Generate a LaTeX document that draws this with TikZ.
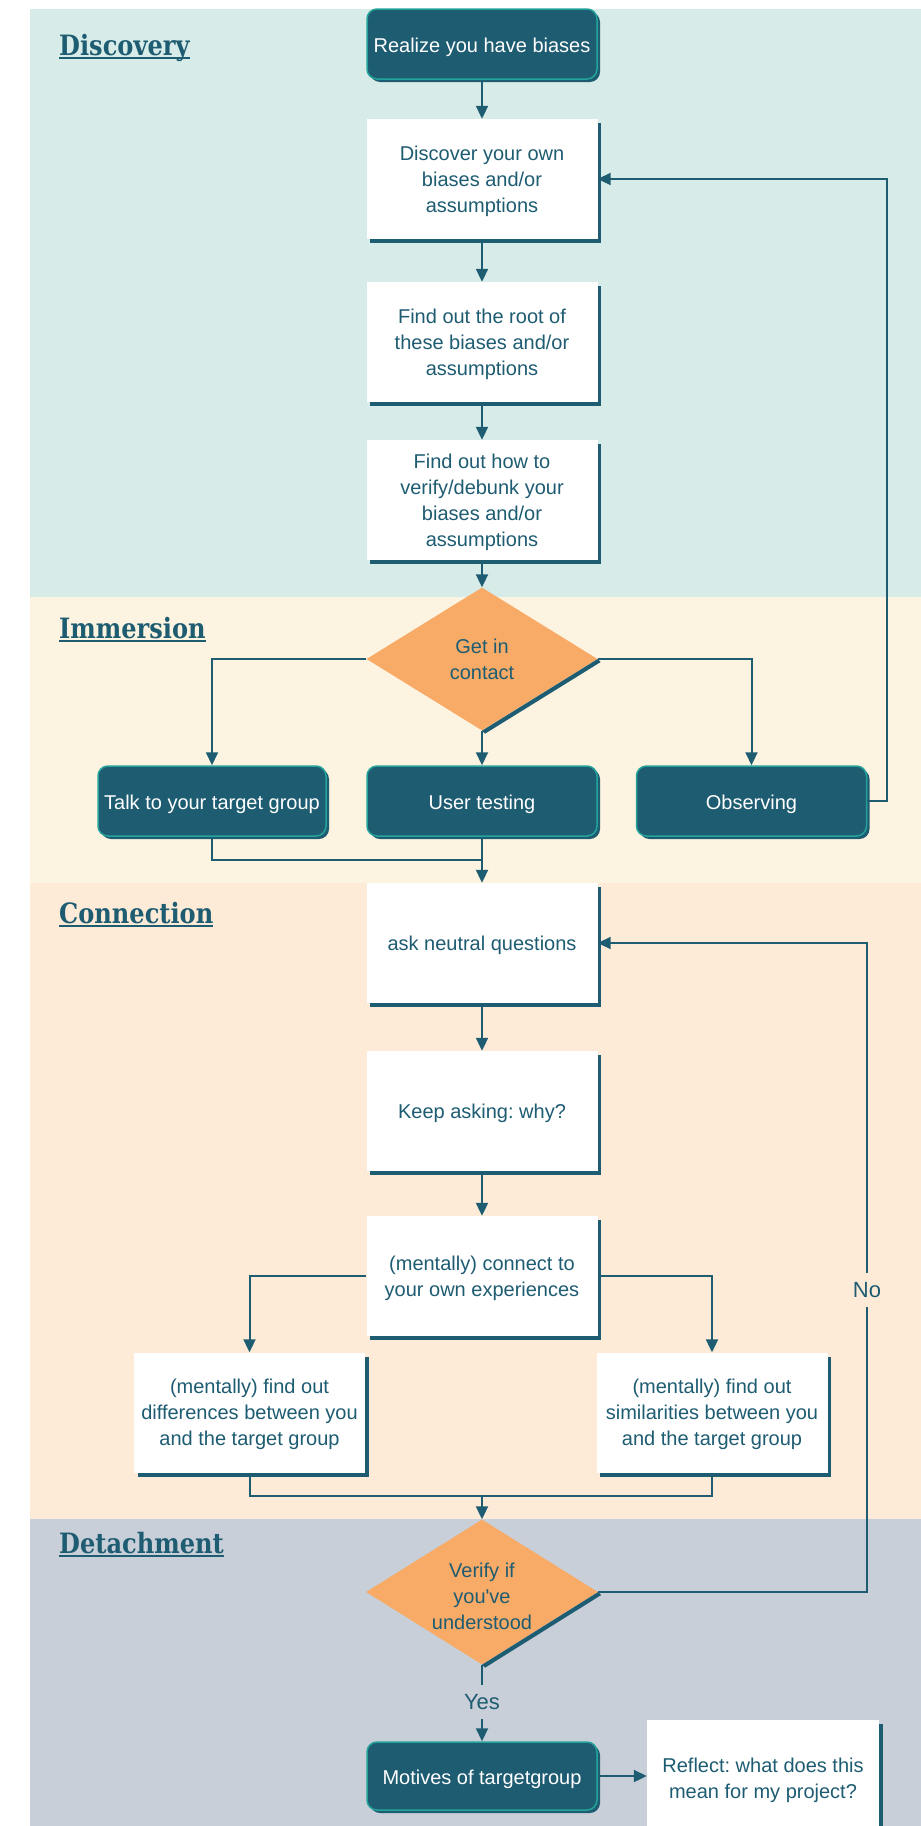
\documentclass[tikz,border=0pt]{standalone}
\usepackage{fontspec}
\setmainfont{Liberation Sans}
\newfontfamily\titlefont{DejaVu Serif}[FakeStretch=0.86]
\usetikzlibrary{shapes.geometric,arrows.meta,shadows}

\definecolor{ink}{HTML}{1E5C72}
\definecolor{rim}{HTML}{23A39A}
\definecolor{orangefill}{HTML}{F8AB67}
\definecolor{bgdisc}{HTML}{D7ECE8}
\definecolor{bgimm}{HTML}{FCF3E0}
\definecolor{bgconn}{HTML}{FDEBD8}
\definecolor{bgdet}{HTML}{C8CFD9}

\begin{document}
\frenchspacing
\begin{tikzpicture}[x=1pt,y=-1pt,
  every node/.style={inner sep=0pt},
  body/.style={font=\fontsize{20}{26}\selectfont, align=center},
  darkbox/.style={body, rectangle, rounded corners=10pt, fill=ink, draw=rim,
    line width=1.5pt, text=white, minimum width=230pt, minimum height=70pt,
    text height=21.5pt,
    drop shadow={shadow xshift=3pt, shadow yshift=-3pt, opacity=1, fill=ink}},
  whitebox/.style={body, rectangle, fill=white, text=ink,
    minimum width=231pt, minimum height=120pt, text depth=0pt,
    drop shadow={shadow xshift=3.5pt, shadow yshift=-4pt, opacity=1, fill=ink}},
  decision/.style={body, diamond, aspect=1.6, fill=orangefill, text=ink,
    minimum width=231pt, minimum height=143pt},
  lbl/.style={font=\fontsize{22}{24}\selectfont, text=ink, inner xsep=3pt, inner ysep=9pt},
  title/.style={font=\titlefont\bfseries\fontsize{28}{30}\selectfont, text=ink, anchor=base west},
  arr/.style={draw=ink, line width=2pt, -{Triangle[length=13pt,width=12pt]}},
  link/.style={draw=ink, line width=2pt},
]
\useasboundingbox (0,0) rectangle (921,1826);
\clip (0,0) rectangle (921,1826);

% phase bands
\fill[bgdisc] (30,9) rectangle (921,597);
\fill[bgimm]  (30,597) rectangle (921,883);
\fill[bgconn] (30,883) rectangle (921,1519);
\fill[bgdet]  (30,1519) rectangle (921,1826);

% phase titles with underline
\node[title] (tdisc) at (59,55) {Discovery};
\node[title] (timm)  at (59,638) {Immersion};
\node[title] (tconn) at (59,923) {Connection};
\node[title] (tdet)  at (59,1553) {Detachment};
\foreach \t in {tdisc,timm,tconn,tdet}
  \draw[ink, line width=2pt] ([yshift=-3pt]\t.base west) -- ([yshift=-3pt]\t.base east);

% Discovery
\node[darkbox] (realize) at (482,44) {Realize you have biases};
\node[whitebox] (discover) at (482,179) {Discover your own\\biases and/or\\assumptions};
\node[whitebox] (root) at (482,342) {Find out the root of\\these biases and/or\\assumptions};
\node[whitebox] (how) at (482,500) {Find out how to\\verify/debunk your\\biases and/or\\assumptions};

% Immersion
\node[decision] (contact) at (482,659) {Get in\\contact};
\fill[ink] (contact.east) -- (contact.south) -- ([xshift=3pt,yshift=-3pt]contact.south)
  -- ([xshift=3pt,yshift=-3pt]contact.east) -- cycle;
\node[darkbox, minimum width=228pt] (talk) at (212,801) {Talk to your target group};
\node[darkbox] (user) at (482,801) {User testing};
\node[darkbox] (observe) at (751.5,801) {Observing};

% Connection
\node[whitebox] (ask) at (482,943) {ask neutral questions};
\node[whitebox] (keep) at (482,1111) {Keep asking: why?};
\node[whitebox] (connect) at (482,1276) {(mentally) connect to\\your own experiences};
\node[whitebox] (diff) at (249.5,1412.5) {(mentally) find out\\differences between you\\and the target group};
\node[whitebox] (sim) at (712,1412.5) {(mentally) find out\\similarities between you\\and the target group};

% Detachment
\node[decision, minimum width=232pt, minimum height=145pt, text height=75.5pt, text depth=0pt] (check) at (482,1592)
  {Verify if\\you\textquotesingle ve\\understood};
\fill[ink] (check.east) -- (check.south) -- ([xshift=3pt,yshift=-3pt]check.south)
  -- ([xshift=3pt,yshift=-3pt]check.east) -- cycle;
\node[darkbox, minimum height=68pt] (motives) at (482,1776) {Motives of targetgroup};
\node[whitebox, minimum width=232pt, minimum height=116pt] (reflect) at (763,1778)
  {Reflect: what does this\\mean for my project?};

% routing points
\coordinate (loopA) at (887,179);
\coordinate (joinA) at (482,860);
\coordinate (joinB) at (482,1496);
\coordinate (loopB) at (867,943);

% connectors
\draw[arr] (realize) -- (discover);
\draw[arr] (discover) -- (root);
\draw[arr] (root) -- (how);
\draw[arr] (how) -- (contact);
\draw[arr] (contact.west) -| (talk.north);
\draw[arr] (contact) -- (user);
\draw[arr] (contact.east) -| (observe.north);
\draw[arr] (observe.east) -| (loopA) -- (discover.east);
\draw[link] (talk.south) |- (joinA);
\draw[arr] (user) -- (ask);
\draw[arr] (ask) -- (keep);
\draw[arr] (keep) -- (connect);
\draw[arr] (connect.west) -| (diff.north);
\draw[arr] (connect.east) -| (sim.north);
\draw[link] (diff.south) |- (joinB) -| (sim.south);
\draw[arr] (joinB) -- (check);
\draw[arr] (check.east) -| (loopB) -- (ask.east);
\node[lbl, fill=bgconn] (no) at (867,1290) {No};
\draw[arr] (check) -- (motives);
\node[lbl, fill=bgdet] (yes) at (482,1702) {Yes};
\draw[arr] (motives.east) -- (motives.east -| reflect.west);
\end{tikzpicture}
\end{document}
